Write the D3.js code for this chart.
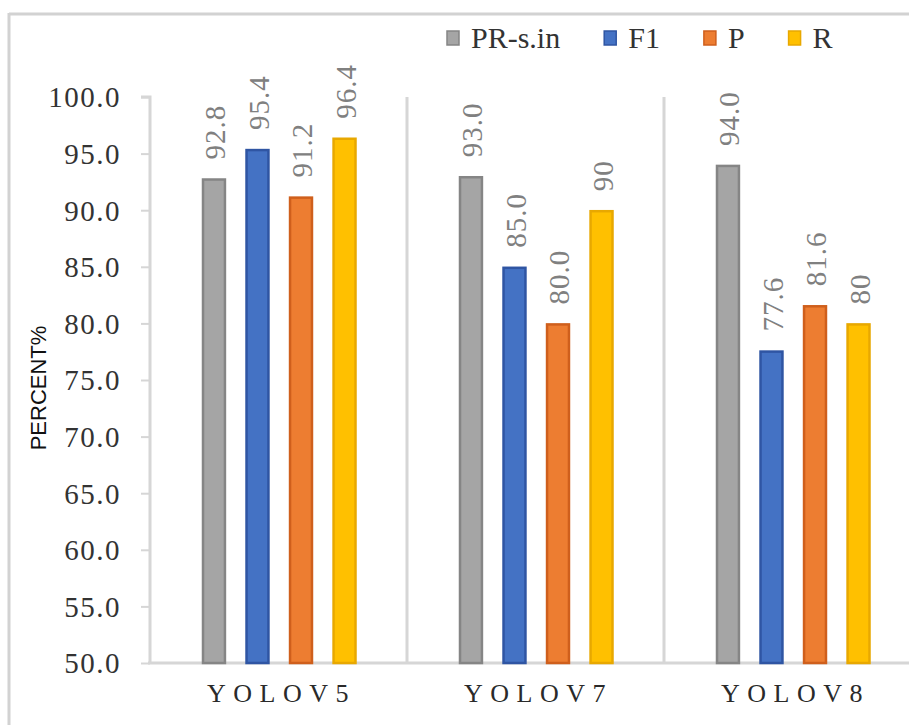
<!DOCTYPE html>
<html>
<head>
<meta charset="utf-8">
<script src="https://cdn.jsdelivr.net/npm/d3@7"></script>
<style>
  html, body { margin: 0; padding: 0; background: #fff; }
  svg { display: block; }
  .serif { font-family: "Liberation Serif", "Times New Roman", "DejaVu Serif", serif; }
  .sans { font-family: "Liberation Sans", Arial, sans-serif; }
</style>
</head>
<body>
<svg id="chart" width="909" height="725"></svg>
<script>
// Detection models compared
const categories = ["YOLOV5", "YOLOV7", "YOLOV8"];
// Metric series
const seriesNames = ["PR-s.in", "F1", "P", "R"];
const seriesColors = ["#a5a5a5", "#4472c4", "#ed7d31", "#ffc000"];
const seriesStrokes = ["#858585", "#2f55a3", "#cf5f1c", "#e8a800"];
// Values per series, in category order
const prsinValues = [92.8, 93.0, 94.0];
const f1Values = [95.4, 85.0, 77.6];
const pValues = [91.2, 80.0, 81.6];
const rValues = [96.4, 90, 80];
// Label text shown above each bar (same order as the values)
const prsinLabels = ["92.8", "93.0", "94.0"];
const f1Labels = ["95.4", "85.0", "77.6"];
const pLabels = ["91.2", "80.0", "81.6"];
const rLabels = ["96.4", "90", "80"];
// Y axis ticks
const yTicks = [50, 55, 60, 65, 70, 75, 80, 85, 90, 95, 100];

const seriesValues = [prsinValues, f1Values, pValues, rValues];
const seriesLabels = [prsinLabels, f1Labels, pLabels, rLabels];

const svg = d3.select("#chart");
const gridColor = "#d6d6d6";

// Outer frame (top and left edges visible)
svg.append("line").attr("x1", 9).attr("x2", 909).attr("y1", 14).attr("y2", 14)
  .attr("stroke", "#d2d2d2").attr("stroke-width", 3);
svg.append("line").attr("x1", 9).attr("x2", 9).attr("y1", 13).attr("y2", 725)
  .attr("stroke", "#d2d2d2").attr("stroke-width", 3);

const x0 = d3.scaleBand().domain(categories).range([150, 921]).paddingInner(0).paddingOuter(0);
const x1 = d3.scaleBand().domain(seriesNames).range([52, 206.5]).paddingInner(0.45).paddingOuter(0);
const y = d3.scaleLinear().domain([50, 100]).range([663, 97]);

// Category separators
svg.append("g").selectAll("line")
  .data(categories.slice(1))
  .join("line")
  .attr("x1", d => x0(d)).attr("x2", d => x0(d))
  .attr("y1", y(100)).attr("y2", y(50))
  .attr("stroke", gridColor).attr("stroke-width", 3);

// Y axis
const yAxis = d3.axisLeft(y).tickValues(yTicks).tickFormat(d3.format(".1f")).tickSize(9).tickPadding(20);
const yg = svg.append("g").attr("transform", "translate(150,0)").call(yAxis);
yg.attr("font-family", null).attr("font-size", null);
yg.select(".domain").attr("stroke", gridColor).attr("stroke-width", 3).attr("d", "M-9,97H0V663");
yg.selectAll(".tick line").attr("stroke", gridColor).attr("stroke-width", 2);
yg.selectAll(".tick text")
  .attr("class", "serif")
  .style("font-size", "29px").attr("fill", "#333")
  .style("letter-spacing", "1.5px").attr("dy", "0.34em");

// X axis line
svg.append("line").attr("x1", 148).attr("x2", 909).attr("y1", y(50)).attr("y2", y(50))
  .attr("stroke", gridColor).attr("stroke-width", 3);

// Bars
const groups = svg.append("g").selectAll("g")
  .data(categories)
  .join("g")
  .attr("transform", d => `translate(${x0(d)},0)`);

groups.each(function (cat, ci) {
  const g = d3.select(this);
  seriesNames.forEach((s, si) => {
    const v = seriesValues[si][ci];
    const bx = x1(s), bw = x1.bandwidth();
    g.append("rect")
      .attr("x", bx + 1).attr("y", y(v) + 1)
      .attr("width", bw - 2).attr("height", y(50) - y(v) - 1)
      .attr("fill", seriesColors[si])
      .attr("stroke", seriesStrokes[si]).attr("stroke-width", 2.5);
    g.append("text")
      .attr("class", "serif")
      .attr("transform", `translate(${bx + bw / 2 + 1},${y(v) - 19}) rotate(-90)`)
      .attr("dy", "0.35em")
      .attr("text-anchor", "start")
      .style("font-size", "29px")
      .style("letter-spacing", "1px")
      .attr("fill", "#808080")
      .text(seriesLabels[si][ci]);
  });
});

// Category labels
svg.append("g").selectAll("text")
  .data(categories)
  .join("text")
  .attr("class", "serif")
  .attr("x", d => x0(d) + x0.bandwidth() / 2 + 3)
  .attr("y", 702)
  .attr("text-anchor", "middle")
  .style("font-size", "26px")
  .style("letter-spacing", "7.5px")
  .attr("fill", "#2a2a2a")
  .text(d => d);

// Y axis title
svg.append("text")
  .attr("class", "sans")
  .attr("transform", "translate(46,388) rotate(-90)")
  .attr("text-anchor", "middle")
  .style("font-size", "22px")
  .attr("fill", "#111")
  .text("PERCENT%");

// Legend
const legend = svg.append("g");
let lx = 447;
seriesNames.forEach((s, i) => {
  legend.append("rect")
    .attr("x", lx).attr("y", 31).attr("width", 12).attr("height", 14)
    .attr("fill", seriesColors[i]).attr("stroke", seriesStrokes[i]).attr("stroke-width", 1.5);
  const t = legend.append("text")
    .attr("class", "serif")
    .attr("x", lx + 24).attr("y", 48)
    .style("font-size", "30px")
    .attr("fill", "#333")
    .text(s);
  lx += 24 + t.node().getComputedTextLength() + 44;
});
</script>
</body>
</html>
